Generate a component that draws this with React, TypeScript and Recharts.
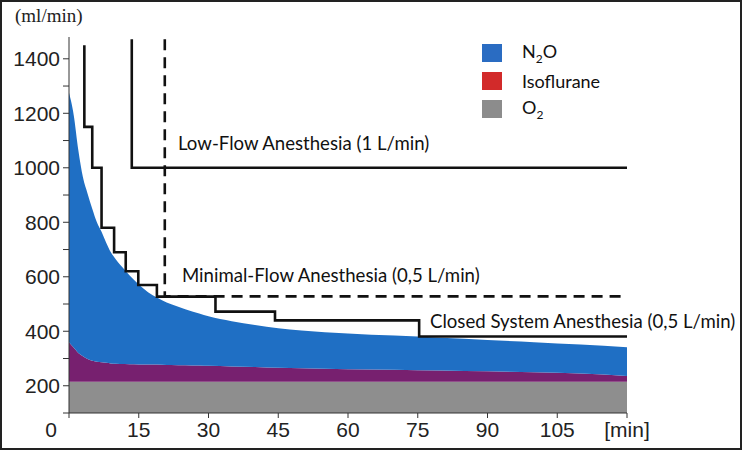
import { ComposedChart, Area, Line, XAxis, YAxis } from 'recharts';

// time grid [min]
const times = [0, 1, 2, 3, 4, 5, 6, 7, 8, 9, 10, 12, 14, 16, 18, 20, 22, 25, 28, 30, 35, 40, 45, 50, 60, 70, 80, 90, 100, 110, 120];
// upper edge of the blue N2O area (total flow)
const totalTop = [1275, 1195, 1065, 965, 905, 850, 800, 765, 725, 690, 665, 625, 588, 557, 532, 514, 499, 481, 465, 455, 437, 423, 411, 403, 392, 384, 376, 368, 360, 351, 341];
// upper edge of the purple isoflurane band
const isoTop = [360, 340, 320, 308, 298, 292, 288, 286, 284, 282, 281, 280, 279, 278, 278, 277, 276, 275, 274, 273, 271, 269, 266, 264, 261, 259, 256, 253, 250, 245, 236];
const o2Flow = 215;

const closedSystem = [
  { t: 3.3, v: 1450 },
  { t: 3.3, v: 1150 },
  { t: 5, v: 1000 },
  { t: 7, v: 780 },
  { t: 9.7, v: 690 },
  { t: 12.2, v: 620 },
  { t: 14.9, v: 570 },
  { t: 18.9, v: 527 },
  { t: 31.5, v: 472 },
  { t: 44.3, v: 440 },
  { t: 75.3, v: 381 },
  { t: 120, v: 381 },
];
const lowFlow = [
  { t: 13.5, v: 1472 },
  { t: 13.5, v: 1000 },
  { t: 120, v: 1000 },
];
const minimalFlow = [
  { t: 20.6, v: 1472 },
  { t: 20.6, v: 528 },
  { t: 120, v: 528 },
];

const xTicks = [0, 15, 30, 45, 60, 75, 90, 105, 120];
const yTicks = [100, 200, 300, 400, 500, 600, 700, 800, 900, 1000, 1100, 1200, 1300, 1400];

const data = times.map((t, i) => ({
  t,
  o2: o2Flow,
  iso: isoTop[i] - o2Flow,
  n2o: totalTop[i] - isoTop[i],
}));

const TICK_FONT = '"Liberation Sans", Arial, sans-serif';
const NOTE_FONT = 'Lato, "Open Sans", sans-serif';

const XTick = (props: any) => {
  const { x, y, payload } = props;
  const v = payload.value;
  const label = v === 120 ? '[min]' : String(v);
  const dx = v === 0 ? -18 : 0;
  return (
    <text x={x + dx} y={y + 17} textAnchor="middle" fontFamily={TICK_FONT} fontSize={21} fill="#222">
      {label}
    </text>
  );
};

const YTick = (props: any) => {
  const { x, y, payload } = props;
  const v = payload.value;
  if (v % 200 !== 0) return null;
  return (
    <text x={x - 1} y={y} dy="0.36em" textAnchor="end" fontFamily={TICK_FONT} fontSize={21} fill="#222">
      {v}
    </text>
  );
};

const note = (left: number, top: number, text: string) => (
  <div
    style={{
      position: 'absolute',
      left,
      top,
      fontFamily: NOTE_FONT,
      fontSize: 18.6,
      color: '#111',
      whiteSpace: 'nowrap',
      lineHeight: '20px',
    }}
  >
    {text}
  </div>
);

const legendRow = (top: number, color: string, label: React.ReactNode) => (
  <div style={{ position: 'absolute', left: 482, top, height: 19, display: 'flex', alignItems: 'center' }}>
    <div style={{ width: 20, height: 18, background: color }} />
    <div style={{ marginLeft: 20, fontFamily: NOTE_FONT, fontSize: 18, color: '#111' }}>{label}</div>
  </div>
);

export default function App() {
  return (
    <div
      style={{
        position: 'absolute',
        left: 0,
        top: 0,
        width: 742,
        height: 450,
        background: '#fff',
        border: '2px solid #222',
        boxSizing: 'border-box',
        overflow: 'hidden',
      }}
    >
      <div style={{ position: 'absolute', left: -2, top: -2 }}>
        <ComposedChart width={742} height={450} data={data} margin={{ top: 37, right: 115, bottom: 7, left: 9 }}>
          <XAxis
            dataKey="t"
            type="number"
            domain={[0, 120]}
            ticks={xTicks}
            interval={0}
            tick={<XTick />}
            tickSize={5}
            height={30}
            axisLine={{ stroke: '#333' }}
            tickLine={{ stroke: '#333' }}
          />
          <YAxis
            type="number"
            domain={[100, 1480]}
            allowDataOverflow
            ticks={yTicks}
            interval={0}
            tick={<YTick />}
            tickSize={6}
            width={60}
            axisLine={{ stroke: '#333' }}
            tickLine={{ stroke: '#333' }}
          />
          <Area dataKey="o2" stackId="flow" type="monotone" stroke="none" fill="#8e8e8e" fillOpacity={1} isAnimationActive={false} />
          <Area dataKey="iso" stackId="flow" type="monotone" stroke="none" fill="#77206f" fillOpacity={1} isAnimationActive={false} />
          <Area dataKey="n2o" stackId="flow" type="monotone" stroke="none" fill="#1f6fc4" fillOpacity={1} isAnimationActive={false} />
          <Line data={lowFlow} dataKey="v" type="stepAfter" stroke="#111" strokeWidth={2.6} dot={false} isAnimationActive={false} />
          <Line
            data={minimalFlow}
            dataKey="v"
            type="stepAfter"
            stroke="#111"
            strokeWidth={2.6}
            strokeDasharray="11 7"
            dot={false}
            isAnimationActive={false}
          />
          <Line data={closedSystem} dataKey="v" type="stepAfter" stroke="#111" strokeWidth={2.6} dot={false} isAnimationActive={false} />
        </ComposedChart>
        <div
          style={{
            position: 'absolute',
            left: 15,
            top: 5,
            fontFamily: '"Liberation Serif", "Times New Roman", serif',
            fontSize: 19,
            color: '#222',
          }}
        >
          (ml/min)
        </div>
        {note(178, 133, 'Low-Flow Anesthesia (1 L/min)')}
        {note(182, 265, 'Minimal-Flow Anesthesia (0,5 L/min)')}
        {note(430, 311, 'Closed System Anesthesia (0,5 L/min)')}
        {legendRow(43, '#2a6cc2', <span>N<sub style={{ fontSize: 12 }}>2</sub>O</span>)}
        {legendRow(71, '#d22a2a', 'Isoflurane')}
        {legendRow(99, '#8c8c8c', <span>O<sub style={{ fontSize: 12 }}>2</sub></span>)}
      </div>
    </div>
  );
}
